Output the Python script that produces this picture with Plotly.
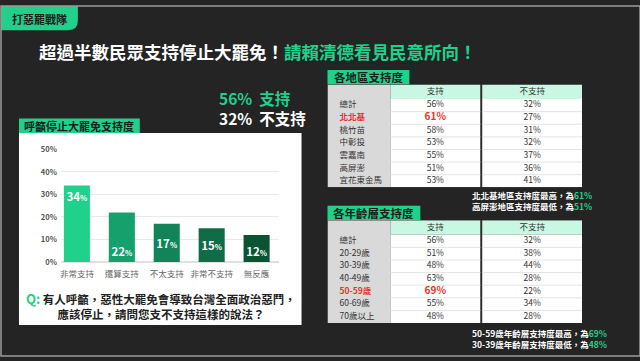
import plotly.graph_objects as go

W, H = 640, 361
def X(p): return p / W
def Y(p): return 1 - p / H

FONT = "Noto Sans CJK TC"
GREEN = "#1fd18b"
RED = "#e8321e"
BG = "#242424"
DARK = "#1c1c1c"

# ---------------- data ----------------
bar_cats = ["非常支持", "還算支持", "不太支持", "非常不支持", "無反應"]
bar_vals = [34, 22, 17, 15, 12]
y_ticks = [0, 10, 20, 30, 40, 50]

overall_support = 56
overall_oppose = 32

table_cols = ["支持", "不支持"]

regions = ["總計", "北北基", "桃竹苗", "中彰投", "雲嘉南", "高屏澎", "宜花東金馬"]
region_support = [56, 61, 58, 53, 55, 51, 53]
region_oppose = [32, 27, 31, 32, 37, 36, 41]

ages = ["總計", "20-29歲", "30-39歲", "40-49歲", "50-59歲", "60-69歲", "70歲以上"]
age_support = [56, 51, 48, 63, 69, 55, 48]
age_oppose = [32, 38, 44, 28, 22, 34, 28]

# ---------------- styles ----------------
bar_colors = ["#1fd18b", "#15a06c", "#118459", "#0e6c46", "#0a5434"]
bar_text_anchor = ["end", "start", "middle", "middle", "start"]

fig = go.Figure()
shapes = []
ann = []

def note(**kw):
    d = dict(xref="paper", yref="paper", showarrow=False)
    d.update(kw)
    ann.append(d)

# outer border
shapes.append(dict(type="rect", xref="paper", yref="paper", x0=0, x1=1, y0=0, y1=1,
                   line=dict(color="#9a9a9a", width=1.5), layer="above"))

# top-left tag
r = 10
tag_path = (f"M {X(0)},{Y(0)} L {X(77)},{Y(0)} L {X(77)},{Y(25-r)} "
            f"Q {X(77)},{Y(25)} {X(77-r)},{Y(25)} L {X(0)},{Y(25)} Z")
shapes.append(dict(type="path", xref="paper", yref="paper", path=tag_path,
                   fillcolor=GREEN, line=dict(width=0), layer="below"))
note(x=X(39), y=Y(13), text="<b>打惡罷戰隊</b>",
     font=dict(family=FONT, size=11, color=DARK), xanchor="center", yanchor="middle")

# title
note(x=X(257), y=Y(47),
     text=f"<b>超過半數民眾支持停止大罷免！<span style='color:{GREEN}'>請賴清德看見民意所向！</span></b>",
     font=dict(family=FONT, size=17.5, color="white"), xanchor="center", yanchor="middle")

# overall numbers (two lines in one block)
note(x=X(216), y=Y(105.5),
     text=(f"<b><span style='color:{GREEN}'>{overall_support}%  支持</span><br>"
           f"{overall_oppose}%  不支持</b>"),
     font=dict(family=FONT, size=15.5, color="white"), xanchor="left", yanchor="middle", align="left")

# left panel
shapes.append(dict(type="rect", xref="paper", yref="paper", x0=X(18), x1=X(139), y0=Y(131), y1=Y(116),
                   fillcolor=GREEN, line=dict(width=0), layer="below"))
note(x=X(78.5), y=Y(123.5), text="<b>呼籲停止大罷免支持度</b>",
     font=dict(family=FONT, size=11, color=DARK), xanchor="center", yanchor="middle")
shapes.append(dict(type="rect", xref="paper", yref="paper", x0=X(18), x1=X(301), y0=Y(329), y1=Y(131),
                   fillcolor="white", line=dict(width=0), layer="below"))

# bars
for i, (c, v) in enumerate(zip(bar_cats, bar_vals)):
    fig.add_bar(x=[c], y=[v], marker=dict(color=bar_colors[i], line=dict(width=0)), width=0.58,
                texttemplate="<b>%{y}<span style='font-size:7.5px'>%</span></b>",
                textposition="inside", insidetextanchor=bar_text_anchor[i], textangle=0,
                constraintext="none",
                textfont=dict(family=FONT, size=11.5, color="white"),
                hoverinfo="skip", showlegend=False, xaxis="x", yaxis="y")

note(x=X(160), y=Y(308.5),
     text=(f"<b><span style='color:{GREEN};font-size:13px'>Q:</span> 有人呼籲，惡性大罷免會導致台灣全面政治惡鬥，"
           "<br>應該停止，請問您支不支持這樣的說法？</b>"),
     font=dict(family=FONT, size=11.5, color="#222"),
     xanchor="center", yanchor="middle", align="center")

# ---------------- tables ----------------
COLX = dict(lab0=0, lab1=63, s0=63, s1=153, o0=155, o1=255)
TXT = dict(lab=12, s=108, o=205)

def build_table(xa, ya, names, sup, opp, label, label_top, label_w, note_unit, note_y):
    n = len(names)
    shapes.append(dict(type="rect", xref="paper", yref="paper", x0=X(327), x1=X(327 + label_w),
                       y0=Y(label_top + 15), y1=Y(label_top), fillcolor=GREEN, line=dict(width=0), layer="below"))
    note(x=X(327 + label_w / 2), y=Y(label_top + 7.5), text=f"<b>{label}</b>",
         font=dict(family=FONT, size=11.5, color=DARK), xanchor="center", yanchor="middle")
    hy0 = -0.65
    shapes.append(dict(type="rect", xref=xa, yref=ya, x0=-1.5, x1=256.5, y0=hy0 - 0.1, y1=n + 0.62,
                       fillcolor="#2e2e2e", line=dict(color="#5a5a5a", width=1.5), layer="below"))
    shapes.append(dict(type="rect", xref=xa, yref=ya, x0=COLX["lab0"], x1=COLX["lab1"], y0=hy0, y1=n + 0.5,
                       fillcolor="#d9d9d9", line=dict(width=0), layer="below"))
    for a, b in [("s0", "s1"), ("o0", "o1")]:
        shapes.append(dict(type="rect", xref=xa, yref=ya, x0=COLX[a], x1=COLX[b], y0=hy0, y1=0.5,
                           fillcolor="#c9f7e3", line=dict(width=0), layer="below"))
        shapes.append(dict(type="rect", xref=xa, yref=ya, x0=COLX[a], x1=COLX[b], y0=0.5, y1=n + 0.5,
                           fillcolor="white", line=dict(width=0), layer="below"))
        for k in range(1, n):
            shapes.append(dict(type="line", xref=xa, yref=ya, x0=COLX[a], x1=COLX[b], y0=k + 0.5, y1=k + 0.5,
                               line=dict(color="#e4e4e4", width=1), layer="below"))
    rows = list(range(1, n + 1))
    hi = max(range(1, n), key=lambda k: sup[k])
    lo = min(range(1, n), key=lambda k: sup[k])
    def fmt(vals, bold_idx):
        return [f"<b>{v}</b>" if k == bold_idx else f"{v}" for k, v in enumerate(vals)]
    col = ["#333"] * n
    col[hi] = RED
    fig.add_scatter(x=[TXT["lab"]] * n, y=rows, mode="text", text=fmt(names, hi), textposition="middle right",
                    textfont=dict(family=FONT, size=8.5, color=col), xaxis=xa, yaxis=ya,
                    hoverinfo="skip", showlegend=False, cliponaxis=False)
    fig.add_scatter(x=[TXT["s"]] * n, y=rows, mode="text", text=fmt([f"{v}%" for v in sup], hi),
                    textposition="middle center",
                    textfont=dict(family=FONT, size=[10 if k == hi else 8.5 for k in range(n)], color=col),
                    xaxis=xa, yaxis=ya, hoverinfo="skip", showlegend=False, cliponaxis=False)
    fig.add_scatter(x=[TXT["o"]] * n, y=rows, mode="text", text=[f"{v}%" for v in opp],
                    textposition="middle center", textfont=dict(family=FONT, size=8.5, color="#333"),
                    xaxis=xa, yaxis=ya, hoverinfo="skip", showlegend=False, cliponaxis=False)
    fig.add_scatter(x=[TXT["s"], TXT["o"]], y=[-0.05, -0.05], mode="text", text=table_cols,
                    textposition="middle center", textfont=dict(family=FONT, size=8.5, color="#333"),
                    xaxis=xa, yaxis=ya, hoverinfo="skip", showlegend=False, cliponaxis=False)
    note(x=X(470), y=Y(note_y + 5.5), xanchor="left", yanchor="middle", align="left",
         text=(f"<b>{names[hi]}{note_unit}支持度最高，為<span style='color:{GREEN}'>{sup[hi]}%</span><br>"
               f"{names[lo]}{note_unit}支持度最低，為<span style='color:{GREEN}'>{sup[lo]}%</span></b>"),
         font=dict(family=FONT, size=8.5, color="white"))

build_table("x2", "y2", regions, region_support, region_oppose, "各地區支持度", 66, 82, "地區", 195)
build_table("x3", "y3", ages, age_support, age_oppose, "各年齡層支持度", 206, 93, "年齡層", 337)

tab_x = dict(domain=[X(327), X(582)], range=[0, 255], visible=False, fixedrange=True)
fig.update_layout(
    width=W, height=H, margin=dict(l=0, r=0, t=0, b=0),
    paper_bgcolor=BG, plot_bgcolor="rgba(0,0,0,0)",
    barmode="overlay", showlegend=False,
    xaxis=dict(domain=[X(60), X(278)], type="category", categoryorder="array", categoryarray=bar_cats,
               range=[-0.356, 4.489], showgrid=False, zeroline=False, showline=False, ticks="",
               tickfont=dict(family=FONT, size=8.5, color="#666"), ticklabelstandoff=6, fixedrange=True,
               anchor="y"),
    yaxis=dict(domain=[Y(264), Y(148)], range=[0, 50], tickmode="array", tickvals=y_ticks,
               ticktext=[f"{v}%" for v in y_ticks],
               showgrid=True, gridcolor="#e9e9e9", gridwidth=1, zeroline=True, zerolinecolor="#e0e0e0",
               showline=False, ticks="", tickfont=dict(family=FONT, size=7.5, color="#555", weight="bold"),
               ticklabelstandoff=3, fixedrange=True, anchor="x"),
    xaxis2=dict(tab_x, anchor="y2"),
    yaxis2=dict(domain=[Y(187), Y(81)], range=[7.5, -0.65], visible=False, fixedrange=True, anchor="x2"),
    xaxis3=dict(tab_x, anchor="y3"),
    yaxis3=dict(domain=[Y(327), Y(221)], range=[7.5, -0.65], visible=False, fixedrange=True, anchor="x3"),
    shapes=shapes, annotations=ann,
    font=dict(family=FONT),
)

fig.write_html("out.html", config={"displayModeBar": False},
               post_script="document.body.style.margin='0';document.body.style.background='%s';" % BG)
